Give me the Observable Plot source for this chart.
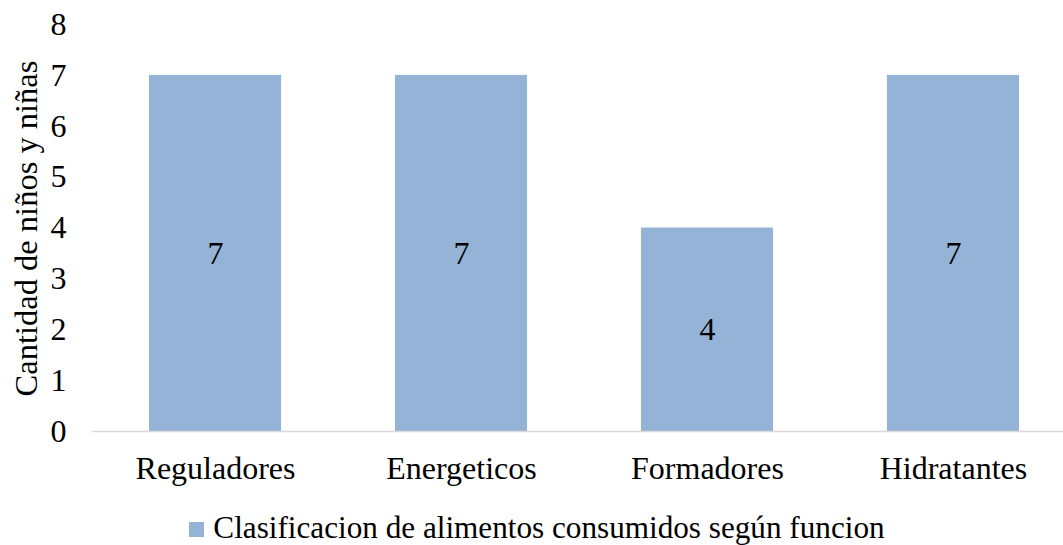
<!DOCTYPE html>
<html>
<head>
<meta charset="utf-8">
<script src="https://cdn.jsdelivr.net/npm/d3@7"></script>
<script src="https://cdn.jsdelivr.net/npm/@observablehq/plot@0.6"></script>
<style>
  html, body { margin: 0; padding: 0; background: #fff; }
  body { width: 1063px; height: 545px; overflow: hidden; font-family: "Liberation Serif", "Times New Roman", serif; }
  #chart svg { display: block; }
  #legend { display: flex; justify-content: center; align-items: center; height: 45px; font-size: 31.2px; color: #000; margin-left: 11px; padding-top: 11px; box-sizing: border-box; }
  #legend .sw { width: 15px; height: 15px; background: #95B3D7; margin-right: 9px; margin-top: 2px; }
</style>
</head>
<body>
<div id="chart"></div>
<div id="legend"><span class="sw"></span><span id="legend-text"></span></div>
<script>
const categories = ["Reguladores", "Energeticos", "Formadores", "Hidratantes"];
const values = [7, 7, 4, 7];
const yTicks = [0, 1, 2, 3, 4, 5, 6, 7, 8];
const seriesName = "Clasificacion de alimentos consumidos según funcion";
const yTitle = "Cantidad de niños y niñas";

const data = categories.map((c, i) => ({category: c, value: values[i]}));

const chart = Plot.plot({
  width: 1063,
  height: 500,
  marginLeft: 92,
  marginRight: 0,
  marginTop: 0,
  marginBottom: 69,
  style: {fontFamily: "Liberation Serif, Times New Roman, serif", fontSize: "32px", color: "#000", background: "#fff"},
  x: {domain: categories, range: [92, 1076], paddingInner: 0.463, paddingOuter: 0.2317, round: false, label: null},
  y: {domain: [0, 8], range: [431, 24], label: null},
  marks: [
    Plot.barY(data, {x: "category", y: "value", fill: "#95B3D7"}),
    Plot.ruleY([0], {stroke: "#d9d9d9", strokeWidth: 1.5}),
    Plot.text(data, {x: "category", y: d => d.value / 2, text: d => String(d.value), fontSize: 32, fill: "#000"}),
    Plot.axisY(yTicks, {tickSize: 0, tickPadding: 26, fontSize: 32, tickFormat: d => String(d), label: null}),
    Plot.text([yTitle], {text: d => d, frameAnchor: "left", rotate: -90, dx: -66, dy: 12.5, fontSize: 32.5, fill: "#000", textAnchor: "middle", lineAnchor: "middle"}),
    Plot.axisX({tickSize: 0, tickPadding: 25, fontSize: 32, label: null})
  ]
});
document.getElementById("chart").appendChild(chart);
document.getElementById("legend-text").textContent = seriesName;
</script>
</body>
</html>
